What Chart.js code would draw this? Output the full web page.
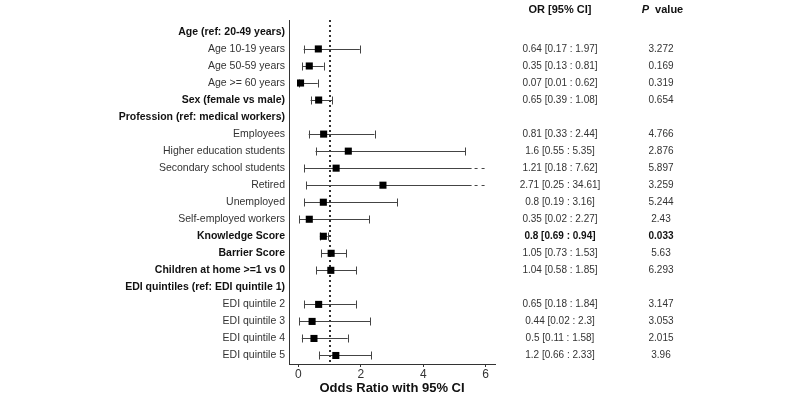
<!DOCTYPE html>
<html lang="en">
<head>
    <meta charset="UTF-8">
    <title>Forest plot - Odds Ratio</title>
    <script src="https://cdn.jsdelivr.net/npm/chart.js"></script>
    <style>
        html, body { margin: 0; padding: 0; background: #fff; }
        #wrap { width: 800px; height: 400px; }
    </style>
</head>
<body>
<div id="wrap"><canvas id="forest"></canvas></div>

<script>
    // row labels (top to bottom)
    const rowLabels = [
        'Age (ref: 20-49 years)', 'Age 10-19 years', 'Age 50-59 years', 'Age >= 60 years',
        'Sex (female vs male)', 'Profession (ref: medical workers)', 'Employees',
        'Higher education students', 'Secondary school students', 'Retired', 'Unemployed',
        'Self-employed workers', 'Knowledge Score', 'Barrier Score', 'Children at home >=1 vs 0',
        'EDI quintiles (ref: EDI quintile 1)', 'EDI quintile 2', 'EDI quintile 3',
        'EDI quintile 4', 'EDI quintile 5'
    ];
    const boldRows = [0, 4, 5, 12, 13, 14, 15];
    const oddsRatio = [null, 0.64, 0.35, 0.07, 0.65, null, 0.81, 1.6, 1.21, 2.71, 0.8, 0.35, 0.8, 1.05, 1.04, null, 0.65, 0.44, 0.5, 1.2];
    const ciLow = [null, 0.17, 0.13, 0.01, 0.39, null, 0.33, 0.55, 0.18, 0.25, 0.19, 0.02, 0.69, 0.73, 0.58, null, 0.18, 0.02, 0.11, 0.66];
    const ciHigh = [null, 1.97, 0.81, 0.62, 1.08, null, 2.44, 5.35, 7.62, 34.61, 3.16, 2.27, 0.94, 1.53, 1.85, null, 1.84, 2.3, 1.58, 2.33];
    const ciText = ['', '0.64 [0.17 : 1.97]', '0.35 [0.13 : 0.81]', '0.07 [0.01 : 0.62]', '0.65 [0.39 : 1.08]', '',
        '0.81 [0.33 : 2.44]', '1.6 [0.55 : 5.35]', '1.21 [0.18 : 7.62]', '2.71 [0.25 : 34.61]', '0.8 [0.19 : 3.16]',
        '0.35 [0.02 : 2.27]', '0.8 [0.69 : 0.94]', '1.05 [0.73 : 1.53]', '1.04 [0.58 : 1.85]', '',
        '0.65 [0.18 : 1.84]', '0.44 [0.02 : 2.3]', '0.5 [0.11 : 1.58]', '1.2 [0.66 : 2.33]'];
    const pValues = ['', '3.272', '0.169', '0.319', '0.654', '', '4.766', '2.876', '5.897', '3.259', '5.244',
        '2.43', '0.033', '5.63', '6.293', '', '3.147', '3.053', '2.015', '3.96'];
    const boldStats = [12];
    const xTicks = [0, 2, 4, 6];
    const refLine = 1;
    const clipAt = 5.55;   // CI drawn solid up to here, dashed beyond

    const FONT = 'Arial, "Liberation Sans", sans-serif';
    const ink = '#333';

    const forestPlugin = {
        id: 'forest',
        beforeDatasetsDraw(chart) {
            const { ctx, chartArea, scales: { x, y } } = chart;
            ctx.save();
            // reference line at OR = 1
            ctx.strokeStyle = ink;
            ctx.lineWidth = 2;
            ctx.setLineDash([2, 3]);
            const xr = Math.round(x.getPixelForValue(refLine));
            ctx.beginPath();
            ctx.moveTo(xr, chartArea.top);
            ctx.lineTo(xr, chartArea.bottom);
            ctx.stroke();

            // confidence intervals
            ctx.lineWidth = 1;
            ctx.strokeStyle = '#444';
            oddsRatio.forEach((v, i) => {
                if (v == null) return;
                const yp = Math.round(y.getPixelForValue(i)) + 0.5;
                const x0 = x.getPixelForValue(ciLow[i]);
                const cut = ciHigh[i] > clipAt;
                const x1 = x.getPixelForValue(cut ? clipAt : ciHigh[i]);
                ctx.setLineDash([]);
                ctx.beginPath();
                ctx.moveTo(x0, yp); ctx.lineTo(x1, yp);
                ctx.moveTo(Math.round(x0) + 0.5, yp - 4); ctx.lineTo(Math.round(x0) + 0.5, yp + 4);
                if (!cut) { ctx.moveTo(Math.round(x1) + 0.5, yp - 4); ctx.lineTo(Math.round(x1) + 0.5, yp + 4); }
                ctx.stroke();
                if (cut) {
                    ctx.setLineDash([3, 4]);
                    ctx.beginPath();
                    ctx.moveTo(x1 + 3, yp); ctx.lineTo(x.getPixelForValue(6.05), yp);
                    ctx.stroke();
                }
            });
            ctx.restore();
        },
        afterDraw(chart) {
            const { ctx, scales: { y } } = chart;
            ctx.save();
            ctx.textAlign = 'center';
            ctx.textBaseline = 'middle';
            ctx.fillStyle = '#111';
            ctx.font = 'bold 11px ' + FONT;
            ctx.fillText('OR [95% CI]', 560, 10);
            ctx.font = 'bold italic 11px ' + FONT;
            ctx.textAlign = 'right';
            ctx.fillText('P', 649, 10);
            ctx.font = 'bold 11px ' + FONT;
            ctx.textAlign = 'left';
            ctx.fillText('  value', 649, 10);
            ctx.textAlign = 'center';
            rowLabels.forEach((_, i) => {
                const yp = y.getPixelForValue(i);
                const b = boldStats.includes(i);
                ctx.font = (b ? 'bold ' : '') + '10px ' + FONT;
                ctx.fillStyle = b ? '#111' : ink;
                ctx.fillText(ciText[i], 560, yp);
                ctx.fillText(pValues[i], 661, yp);
            });
            ctx.restore();
        }
    };

    new Chart(document.getElementById('forest'), {
        type: 'scatter',
        data: {
            datasets: [{
                data: oddsRatio.map((v, i) => ({ x: v, y: i })).filter(p => p.x != null),
                pointStyle: 'rect',
                pointRadius: 5,
                backgroundColor: '#000',
                borderColor: '#000',
                borderWidth: 0
            }]
        },
        options: {
            responsive: true,
            maintainAspectRatio: false,
            animation: false,
            layout: { padding: { left: 0, right: 305, top: 20, bottom: 0 } },
            plugins: { legend: { display: false }, tooltip: { enabled: false } },
            scales: {
                x: {
                    type: 'linear',
                    min: -0.3,
                    max: 6.3,
                    afterBuildTicks: s => { s.ticks = xTicks.map(v => ({ value: v })); },
                    afterFit: s => { s.height = 36; },
                    grid: { drawOnChartArea: false, drawTicks: true, tickLength: 3, color: ink },
                    border: { display: true, color: ink },
                    ticks: { color: ink, font: { family: FONT, size: 12 }, padding: 0 },
                    title: {
                        display: true,
                        text: 'Odds Ratio with 95% CI',
                        color: '#111',
                        font: { family: FONT, size: 13, weight: 'bold' },
                        padding: { top: 0, bottom: 4 }
                    }
                },
                y: {
                    type: 'linear',
                    reverse: true,
                    min: -0.7,
                    max: 19.5,
                    afterBuildTicks: s => { s.ticks = rowLabels.map((_, i) => ({ value: i })); },
                    afterFit: s => { s.width = 289; },
                    grid: { display: false, drawTicks: false },
                    border: { display: true, color: ink },
                    ticks: {
                        padding: 4,
                        color: c => boldRows.includes(c.index) ? '#111' : ink,
                        font: c => ({ family: FONT, size: 10.5, weight: boldRows.includes(c.index) ? 'bold' : 'normal' }),
                        callback: (v, i) => rowLabels[i]
                    }
                }
            }
        },
        plugins: [forestPlugin]
    });
</script>
</body>
</html>
